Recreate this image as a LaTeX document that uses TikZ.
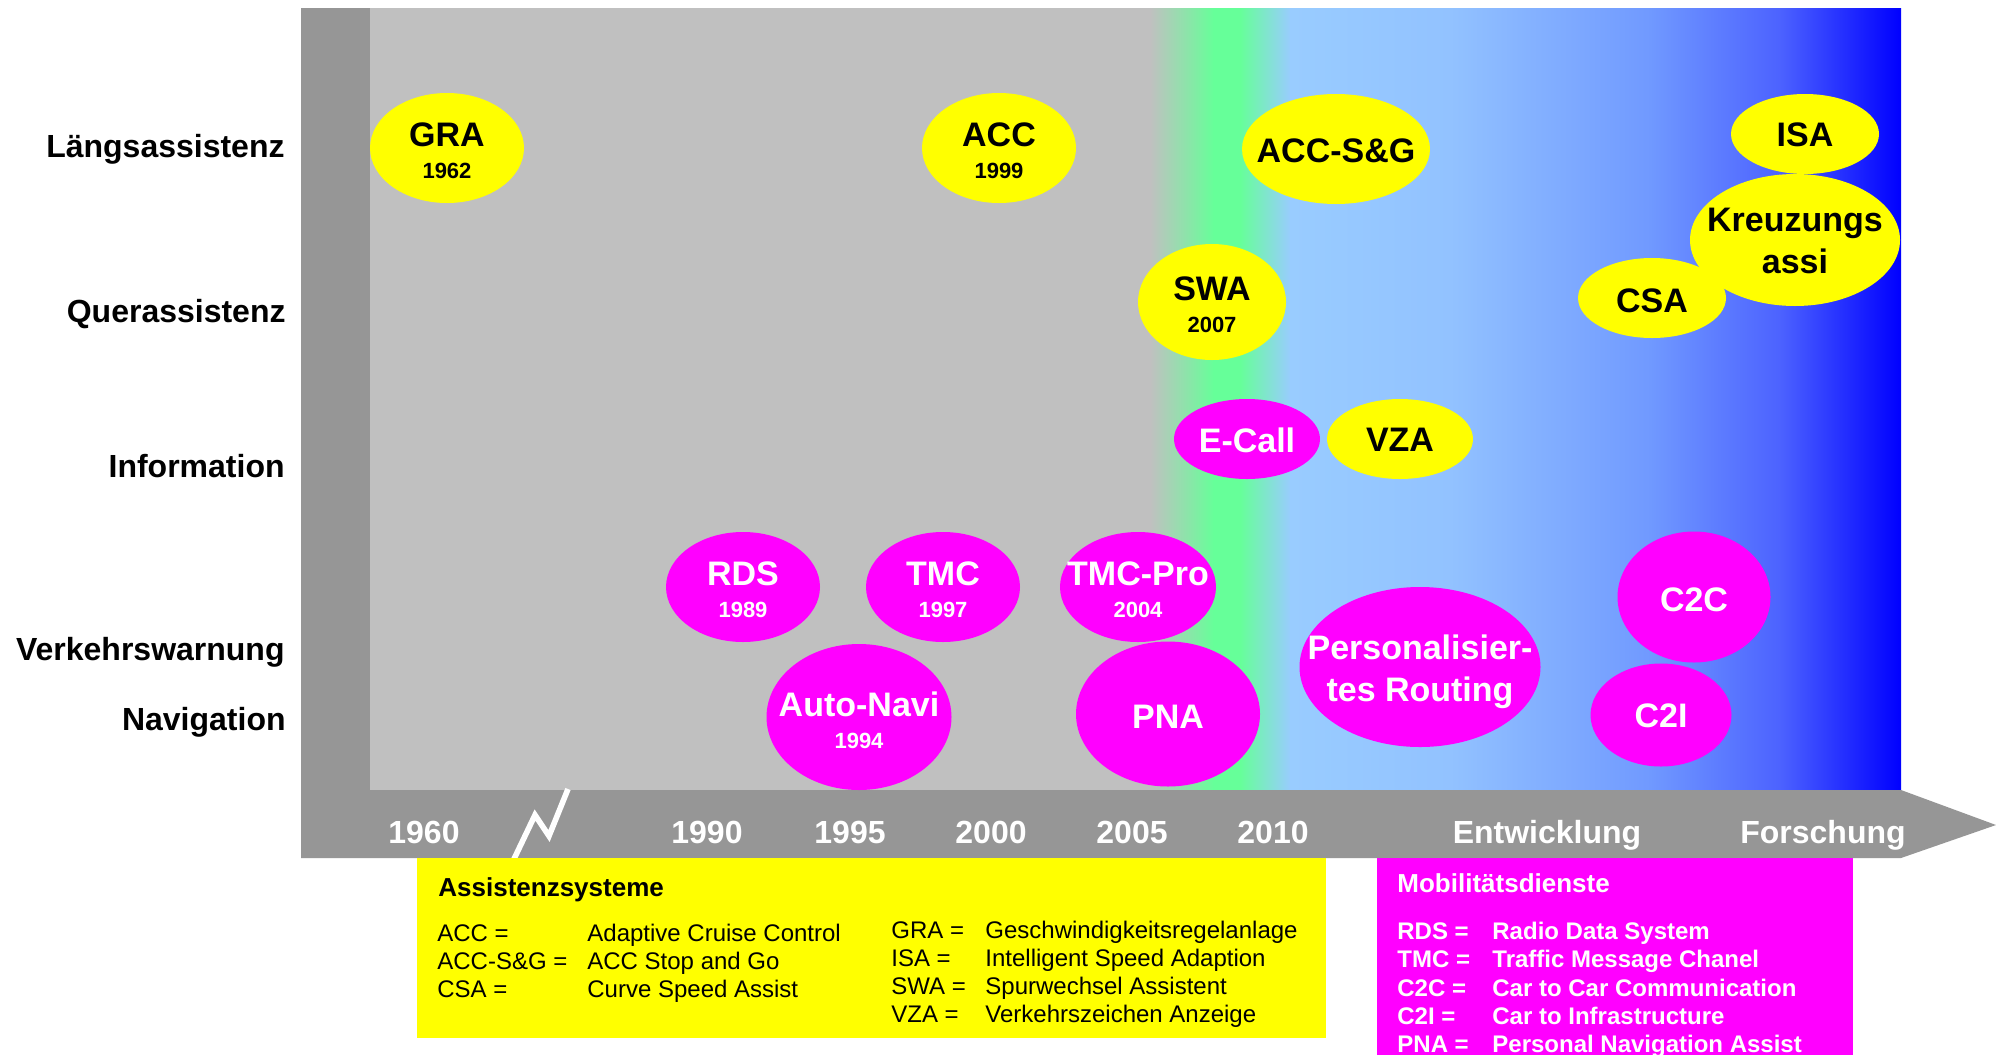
\documentclass[tikz,border=0pt]{standalone}
\usepackage{fontspec}
\setmainfont{Liberation Sans}
\usetikzlibrary{shapes.geometric}
\definecolor{yel}{HTML}{FFFF00}
\definecolor{mag}{HTML}{FF00FF}
\definecolor{dkgray}{HTML}{969696}
\definecolor{ltgray}{HTML}{C0C0C0}
\definecolor{grn}{HTML}{66FF99}
\definecolor{lblue}{HTML}{99CCFF}
\definecolor{lbtwo}{HTML}{92C2FF}
\definecolor{lbthree}{HTML}{7099FF}
\definecolor{lbfour}{HTML}{4C62FF}
\definecolor{dblue}{HTML}{0000FF}
\newcommand{\yrtxt}[1]{{\fontsize{11}{13}\selectfont #1}}
\begin{document}
\begin{tikzpicture}[x=0.5pt,y=-0.5pt,
  ell/.style={ellipse, inner sep=0pt, outer sep=0pt},
  yelell/.style={ell, fill=yel},
  magell/.style={ell, fill=mag},
  ttl/.style={font=\bfseries\fontsize{17}{21}\selectfont, align=center, inner sep=0pt, text=black, yshift=-1.6pt},
  ttlw/.style={ttl, text=white},
  rowlab/.style={anchor=base east, inner sep=0pt, font=\bfseries\fontsize{16}{18}\selectfont},
  axlab/.style={anchor=base, inner sep=0pt, text=white, font=\bfseries\fontsize{16}{18}\selectfont},
  lgtitle/.style={anchor=base west, inner sep=0pt, font=\bfseries\fontsize{13}{15}\selectfont},
  lgtxt/.style={anchor=base west, inner sep=0pt, font=\fontsize{12}{14}\selectfont},
  lgmag/.style={anchor=base west, inner sep=0pt, text=white, font=\bfseries\fontsize{12}{14}\selectfont},
  lgmagt/.style={anchor=base west, inner sep=0pt, text=white, font=\bfseries\fontsize{13}{15}\selectfont}]
\useasboundingbox (0,0) rectangle (1996,1055);
\fill[white] (0,0) rectangle (1996,1055);
% panel
\fill[ltgray] (370,8) rectangle (1901,790);
\shade[left color=ltgray, right color=grn] (1150,8) rectangle (1214,790);
\fill[grn] (1213,8) rectangle (1241,790);
\shade[left color=grn, right color=lblue] (1240,8) rectangle (1291,790);
\shade[left color=lblue, right color=lbtwo] (1290,8) rectangle (1451,790);
\shade[left color=lbtwo, right color=lbthree] (1450,8) rectangle (1651,790);
\shade[left color=lbthree, right color=lbfour] (1650,8) rectangle (1781,790);
\shade[left color=lbfour, right color=dblue] (1780,8) rectangle (1901,790);
\fill[dkgray] (301,8) rectangle (370,790);
\fill[dkgray] (301,790) -- (1901,790) -- (1996,825) -- (1901,858) -- (301,858) -- cycle;
% break mark
\coordinate (z1) at (514,859);
\coordinate (z2) at (535,815);
\coordinate (z3) at (549,836);
\coordinate (z4) at (568,789);
\draw[white, line width=2.8pt] (z1) -- (z2) -- (z3) -- (z4);
% row labels
\node[rowlab] (rl1) at (285,157) {Längsassistenz};
\node[rowlab] (rl2) at (286,322) {Querassistenz};
\node[rowlab] (rl3) at (285,477) {Information};
\node[rowlab] (rl4) at (285,660) {Verkehrswarnung};
\node[rowlab] (rl5) at (286,730) {Navigation};
% axis labels
\node[axlab] (a1960) at (424,843) {1960};
\node[axlab] (a1990) at (707,843) {1990};
\node[axlab] (a1995) at (850,843) {1995};
\node[axlab] (a2000) at (991,843) {2000};
\node[axlab] (a2005) at (1132,843) {2005};
\node[axlab] (a2010) at (1273,843) {2010};
\node[axlab] (aent) at (1547,843) {Entwicklung};
\node[axlab] (afor) at (1823,843) {Forschung};
% yellow ellipses
\node[yelell, minimum width=77pt, minimum height=55pt, label={[ttl]center:GRA\\[-5pt]\yrtxt{1962}}] (gra) at (447,148) {};
\node[yelell, minimum width=77pt, minimum height=55pt, label={[ttl]center:ACC\\[-5pt]\yrtxt{1999}}] (acc) at (999,148) {};
\node[yelell, minimum width=94pt, minimum height=55pt, label={[ttl, yshift=0.8pt]center:ACC-S\&G}] (accsg) at (1336,149) {};
\node[yelell, minimum width=74pt, minimum height=40pt, label={[ttl, yshift=1pt]center:ISA}] (isa) at (1805,134) {};
\node[yelell, minimum width=74pt, minimum height=40pt, label={[ttl]center:CSA}] (csa) at (1652,298) {};
\node[yelell, minimum width=105pt, minimum height=66pt, label={[ttl, yshift=1pt]center:Kreuzungs\\assi}] (kreuz) at (1795,240) {};
\node[yelell, minimum width=74pt, minimum height=58pt, label={[ttl]center:SWA\\[-5pt]\yrtxt{2007}}] (swa) at (1212,302) {};
\node[yelell, minimum width=73pt, minimum height=40pt, label={[ttl, yshift=1pt]center:VZA}] (vza) at (1400,439) {};
% magenta ellipses
\node[magell, minimum width=73pt, minimum height=40pt, label={[ttlw, yshift=1pt]center:E-Call}] (ecall) at (1247,439) {};
\node[magell, minimum width=77pt, minimum height=55pt, label={[ttlw]center:RDS\\[-5pt]\yrtxt{1989}}] (rds) at (743,587) {};
\node[magell, minimum width=77pt, minimum height=55pt, label={[ttlw]center:TMC\\[-5pt]\yrtxt{1997}}] (tmc) at (943,587) {};
\node[magell, minimum width=78pt, minimum height=55pt, label={[ttlw]center:TMC-Pro\\[-5pt]\yrtxt{2004}}] (tmcpro) at (1138,587) {};
\node[magell, minimum width=92.5pt, minimum height=73pt, label={[ttlw]center:Auto-Navi\\[-5pt]\yrtxt{1994}}] (autonavi) at (859,717) {};
\node[magell, minimum width=92pt, minimum height=72.5pt, label={[ttlw]center:PNA}] (pna) at (1168,714) {};
\node[magell, minimum width=120.5pt, minimum height=80pt, label={[ttlw, yshift=-0.6pt]center:Personalisier-\\tes Routing}] (pers) at (1420,667) {};
\node[magell, minimum width=76.5pt, minimum height=65.5pt, label={[ttlw, yshift=0.4pt]center:C2C}] (c2c) at (1694,597) {};
\node[magell, minimum width=70.5pt, minimum height=51.5pt, label={[ttlw, yshift=1pt]center:C2I}] (c2i) at (1661,715) {};
% legend yellow
\fill[yel] (417,858) rectangle (1326,1038);
\node[lgtitle] (lgA) at (438,896) {Assistenzsysteme};
\node[lgtxt] (k1) at (437,941) {ACC =};
\node[lgtxt] (k2) at (437,969) {ACC-S\&G =};
\node[lgtxt] (k3) at (437,997) {CSA =};
\node[lgtxt] (m1) at (587,941) {Adaptive Cruise Control};
\node[lgtxt] (m2) at (587,969) {ACC Stop and Go};
\node[lgtxt] (m3) at (587,997) {Curve Speed Assist};
\node[lgtxt] (k4) at (891,938) {GRA =};
\node[lgtxt] (k5) at (891,966) {ISA =};
\node[lgtxt] (k6) at (891,994) {SWA =};
\node[lgtxt] (k7) at (891,1022) {VZA =};
\node[lgtxt] (m4) at (985,938) {Geschwindigkeitsregelanlage};
\node[lgtxt] (m5) at (985,966) {Intelligent Speed Adaption};
\node[lgtxt] (m6) at (985,994) {Spurwechsel Assistent};
\node[lgtxt] (m7) at (985,1022) {Verkehrszeichen Anzeige};
% legend magenta
\fill[mag] (1377,858) rectangle (1853,1055);
\node[lgmagt] (lgM) at (1397,892) {Mobilitätsdienste};
\node[lgmag] (n1) at (1397,939) {RDS =};
\node[lgmag] (n2) at (1397,967) {TMC =};
\node[lgmag] (n3) at (1397,996) {C2C =};
\node[lgmag] (n4) at (1397,1024) {C2I =};
\node[lgmag] (n5) at (1397,1052) {PNA =};
\node[lgmag] (p1) at (1492,939) {Radio Data System};
\node[lgmag] (p2) at (1492,967) {Traffic Message Chanel};
\node[lgmag] (p3) at (1492,996) {Car to Car Communication};
\node[lgmag] (p4) at (1492,1024) {Car to Infrastructure};
\node[lgmag] (p5) at (1492,1052) {Personal Navigation Assist};
\end{tikzpicture}
\end{document}
